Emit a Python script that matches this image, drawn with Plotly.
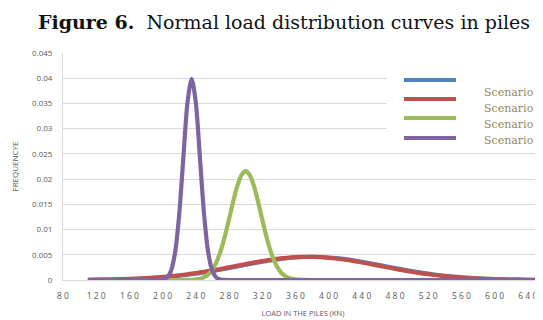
import plotly.graph_objects as go

# ---- data ----
load_kn = [110, 120, 130, 140, 150, 160, 170, 180, 190,
           195, 200, 205, 210, 215, 220, 225, 230, 235, 240, 245, 250, 255, 260, 265, 270,
           275, 280, 285, 290, 295, 300, 305, 310, 315, 320, 325, 330, 335, 340, 345, 350,
           360, 370, 380, 390, 400, 410, 420, 430, 440, 450, 460, 470, 480, 490, 500, 510,
           520, 530, 540, 550, 560, 570, 580, 590, 600, 610, 620, 630, 640, 650]

scenario_1 = [0.0000372, 0.0000527, 0.0000739, 0.000102, 0.000139, 0.000187, 0.000249, 0.000327, 0.000422,
              0.000478, 0.000539, 0.000607, 0.000680, 0.000759, 0.000845, 0.000938, 0.001037, 0.001144,
              0.001256, 0.001376, 0.001502, 0.001634, 0.001772, 0.001914, 0.002062, 0.002214, 0.002369,
              0.002527, 0.002686, 0.002846, 0.003005, 0.003162, 0.003318, 0.003469, 0.003616, 0.003755,
              0.003888, 0.004012, 0.004126, 0.004230, 0.004321,
              0.004466, 0.004556, 0.004586, 0.004556, 0.004466, 0.004321, 0.004126, 0.003888, 0.003616,
              0.003318, 0.003005, 0.002686, 0.002369, 0.002062, 0.001772, 0.001502, 0.001256, 0.001037,
              0.000845, 0.000680, 0.000539, 0.000422, 0.000327, 0.000249, 0.000187, 0.000139, 0.000102,
              0.0000739, 0.0000527, 0.0000372]

scenario_2 = [0.0000444, 0.0000625, 0.0000870, 0.000119, 0.000162, 0.000217, 0.000286, 0.000372, 0.000478,
              0.000539, 0.000607, 0.000680, 0.000759, 0.000845, 0.000938, 0.001037, 0.001144, 0.001256,
              0.001376, 0.001502, 0.001634, 0.001772, 0.001914, 0.002062, 0.002214, 0.002369, 0.002527,
              0.002686, 0.002846, 0.003005, 0.003162, 0.003318, 0.003469, 0.003616, 0.003755, 0.003888,
              0.004012, 0.004126, 0.004230, 0.004321, 0.004400,
              0.004518, 0.004578, 0.004578, 0.004518, 0.004400, 0.004230, 0.004012, 0.003755, 0.003469,
              0.003162, 0.002846, 0.002527, 0.002214, 0.001914, 0.001634, 0.001376, 0.001144, 0.000938,
              0.000759, 0.000607, 0.000478, 0.000372, 0.000286, 0.000217, 0.000162, 0.000119, 0.0000870,
              0.0000625, 0.0000444, 0.0000310]

scenario_3 = [0, 0, 0, 0, 0, 0, 0, 0, 0,
              0, 0, 0, 0, 0, 0, 0.0000058, 0.0000168, 0.0000450, 0.000112, 0.000260, 0.000560,
              0.001120, 0.002083, 0.003602, 0.005791, 0.008656, 0.012025, 0.015528, 0.018639, 0.020797,
              0.02157, 0.020797, 0.018639, 0.015528, 0.012025, 0.008656, 0.005791, 0.003602, 0.002083,
              0.001120, 0.000560,
              0.000112, 0.0000168, 0, 0, 0, 0, 0, 0, 0, 0, 0, 0, 0, 0, 0, 0,
              0, 0, 0, 0, 0, 0, 0, 0, 0, 0, 0, 0, 0, 0]

scenario_4 = [0, 0, 0, 0, 0, 0, 0, 0, 0,
              0.0000134, 0.0000872, 0.000443, 0.001753, 0.005399, 0.012951, 0.024197, 0.035204, 0.039894,
              0.035204, 0.024197, 0.012951, 0.005399, 0.001753, 0.000443, 0.0000872, 0.0000134, 0,
              0, 0, 0, 0, 0, 0, 0, 0, 0, 0, 0, 0, 0, 0,
              0, 0, 0, 0, 0, 0, 0, 0, 0, 0, 0, 0, 0, 0, 0, 0,
              0, 0, 0, 0, 0, 0, 0, 0, 0, 0, 0, 0, 0, 0]

series_names = ["Scenario 1", "Scenario 2", "Scenario 3", "Scenario 4"]
series_values = [scenario_1, scenario_2, scenario_3, scenario_4]
colors = ["#4F81BD", "#C0504D", "#9BBB59", "#8064A2"]

x_tick_vals = [80, 120, 160, 200, 240, 280, 320, 360, 400, 440, 480, 520, 560, 600, 640]
y_tick_vals = [0, 0.005, 0.01, 0.015, 0.02, 0.025, 0.03, 0.035, 0.04, 0.045]
y_tick_text = ["0", "0.005", "0.01", "0.015", "0.02", "0.025", "0.03", "0.035", "0.04", "0.045"]

title_html = "<b>Figure 6.</b>  Normal load distribution curves in piles"

# ---- figure ----
# the page body has an 8px margin, so the figure is made 8px smaller and
# reference page positions are shifted by that offset
OFF = 8
W, H = 543 - OFF, 320 - OFF
ML, MR, MT, MB = 63 - OFF, 0, 53 - OFF, 40
PW, PH = W - ML - MR, H - MT - MB


def px_x(px):
    return (px - OFF - ML) / PW


def px_y(py):
    return (H - MB - (py - OFF)) / PH


fig = go.Figure()
for name, vals, col in zip(series_names, series_values, colors):
    fig.add_trace(go.Scatter(x=load_kn, y=vals, mode="lines", name=name,
                             line=dict(color=col, width=4.2, shape="spline", smoothing=0.8),
                             showlegend=False))

grey = "#595959"
fig.update_layout(
    width=W, height=H,
    margin=dict(l=ML, r=MR, t=MT, b=MB),
    paper_bgcolor="white", plot_bgcolor="white",
    font=dict(family="Open Sans", color=grey, size=8),
    title=dict(text=title_html, x=(284 - OFF) / W, xanchor="center",
               y=1 - (22 - OFF) / H, yanchor="middle",
               font=dict(family="DejaVu Serif", size=19, color="#111111")),
    xaxis=dict(range=[80, 80 + PW / 0.83], tickvals=x_tick_vals,
               ticktext=[" ".join(str(v)) for v in x_tick_vals],
               showgrid=False, zeroline=False, showline=True, linecolor="#d9d9d9",
               ticks="", ticklabelstandoff=8, tickfont=dict(size=8.5, color=grey),
               title=dict(text="LOAD IN THE PILES (KN)", font=dict(size=7.5, color=grey), standoff=10)),
    yaxis=dict(range=[0, 0.045], tickvals=y_tick_vals, ticktext=y_tick_text,
               showgrid=True, gridcolor="#d9d9d9", gridwidth=1, zeroline=False,
               showline=True, linecolor="#d9d9d9", ticks="", ticklabelstandoff=8,
               tickfont=dict(size=8, color=grey),
               title=dict(text="FREQUENCYE", font=dict(size=8, color=grey), standoff=12)),
)

# legend box (white, covers gridlines) and legend entries
shapes = [dict(type="rect", xref="paper", yref="paper", x0=px_x(387), x1=1.02,
               y0=px_y(150), y1=px_y(58), fillcolor="white", line=dict(width=0), layer="above")]
line_y = [80, 99, 118, 138]
text_y = [92, 108, 124, 140]
annotations = []
for name, col, ly, ty in zip(series_names, colors, line_y, text_y):
    shapes.append(dict(type="line", xref="paper", yref="paper", x0=px_x(404), x1=px_x(456),
                       y0=px_y(ly), y1=px_y(ly), line=dict(color=col, width=4), layer="above"))
    annotations.append(dict(text=name, xref="paper", yref="paper", x=px_x(482), y=px_y(ty),
                            xanchor="left", yanchor="middle", showarrow=False,
                            font=dict(family="DejaVu Serif", size=11, color="#958A5B")))
fig.update_layout(shapes=shapes, annotations=annotations)

fig.write_html("out.html")
